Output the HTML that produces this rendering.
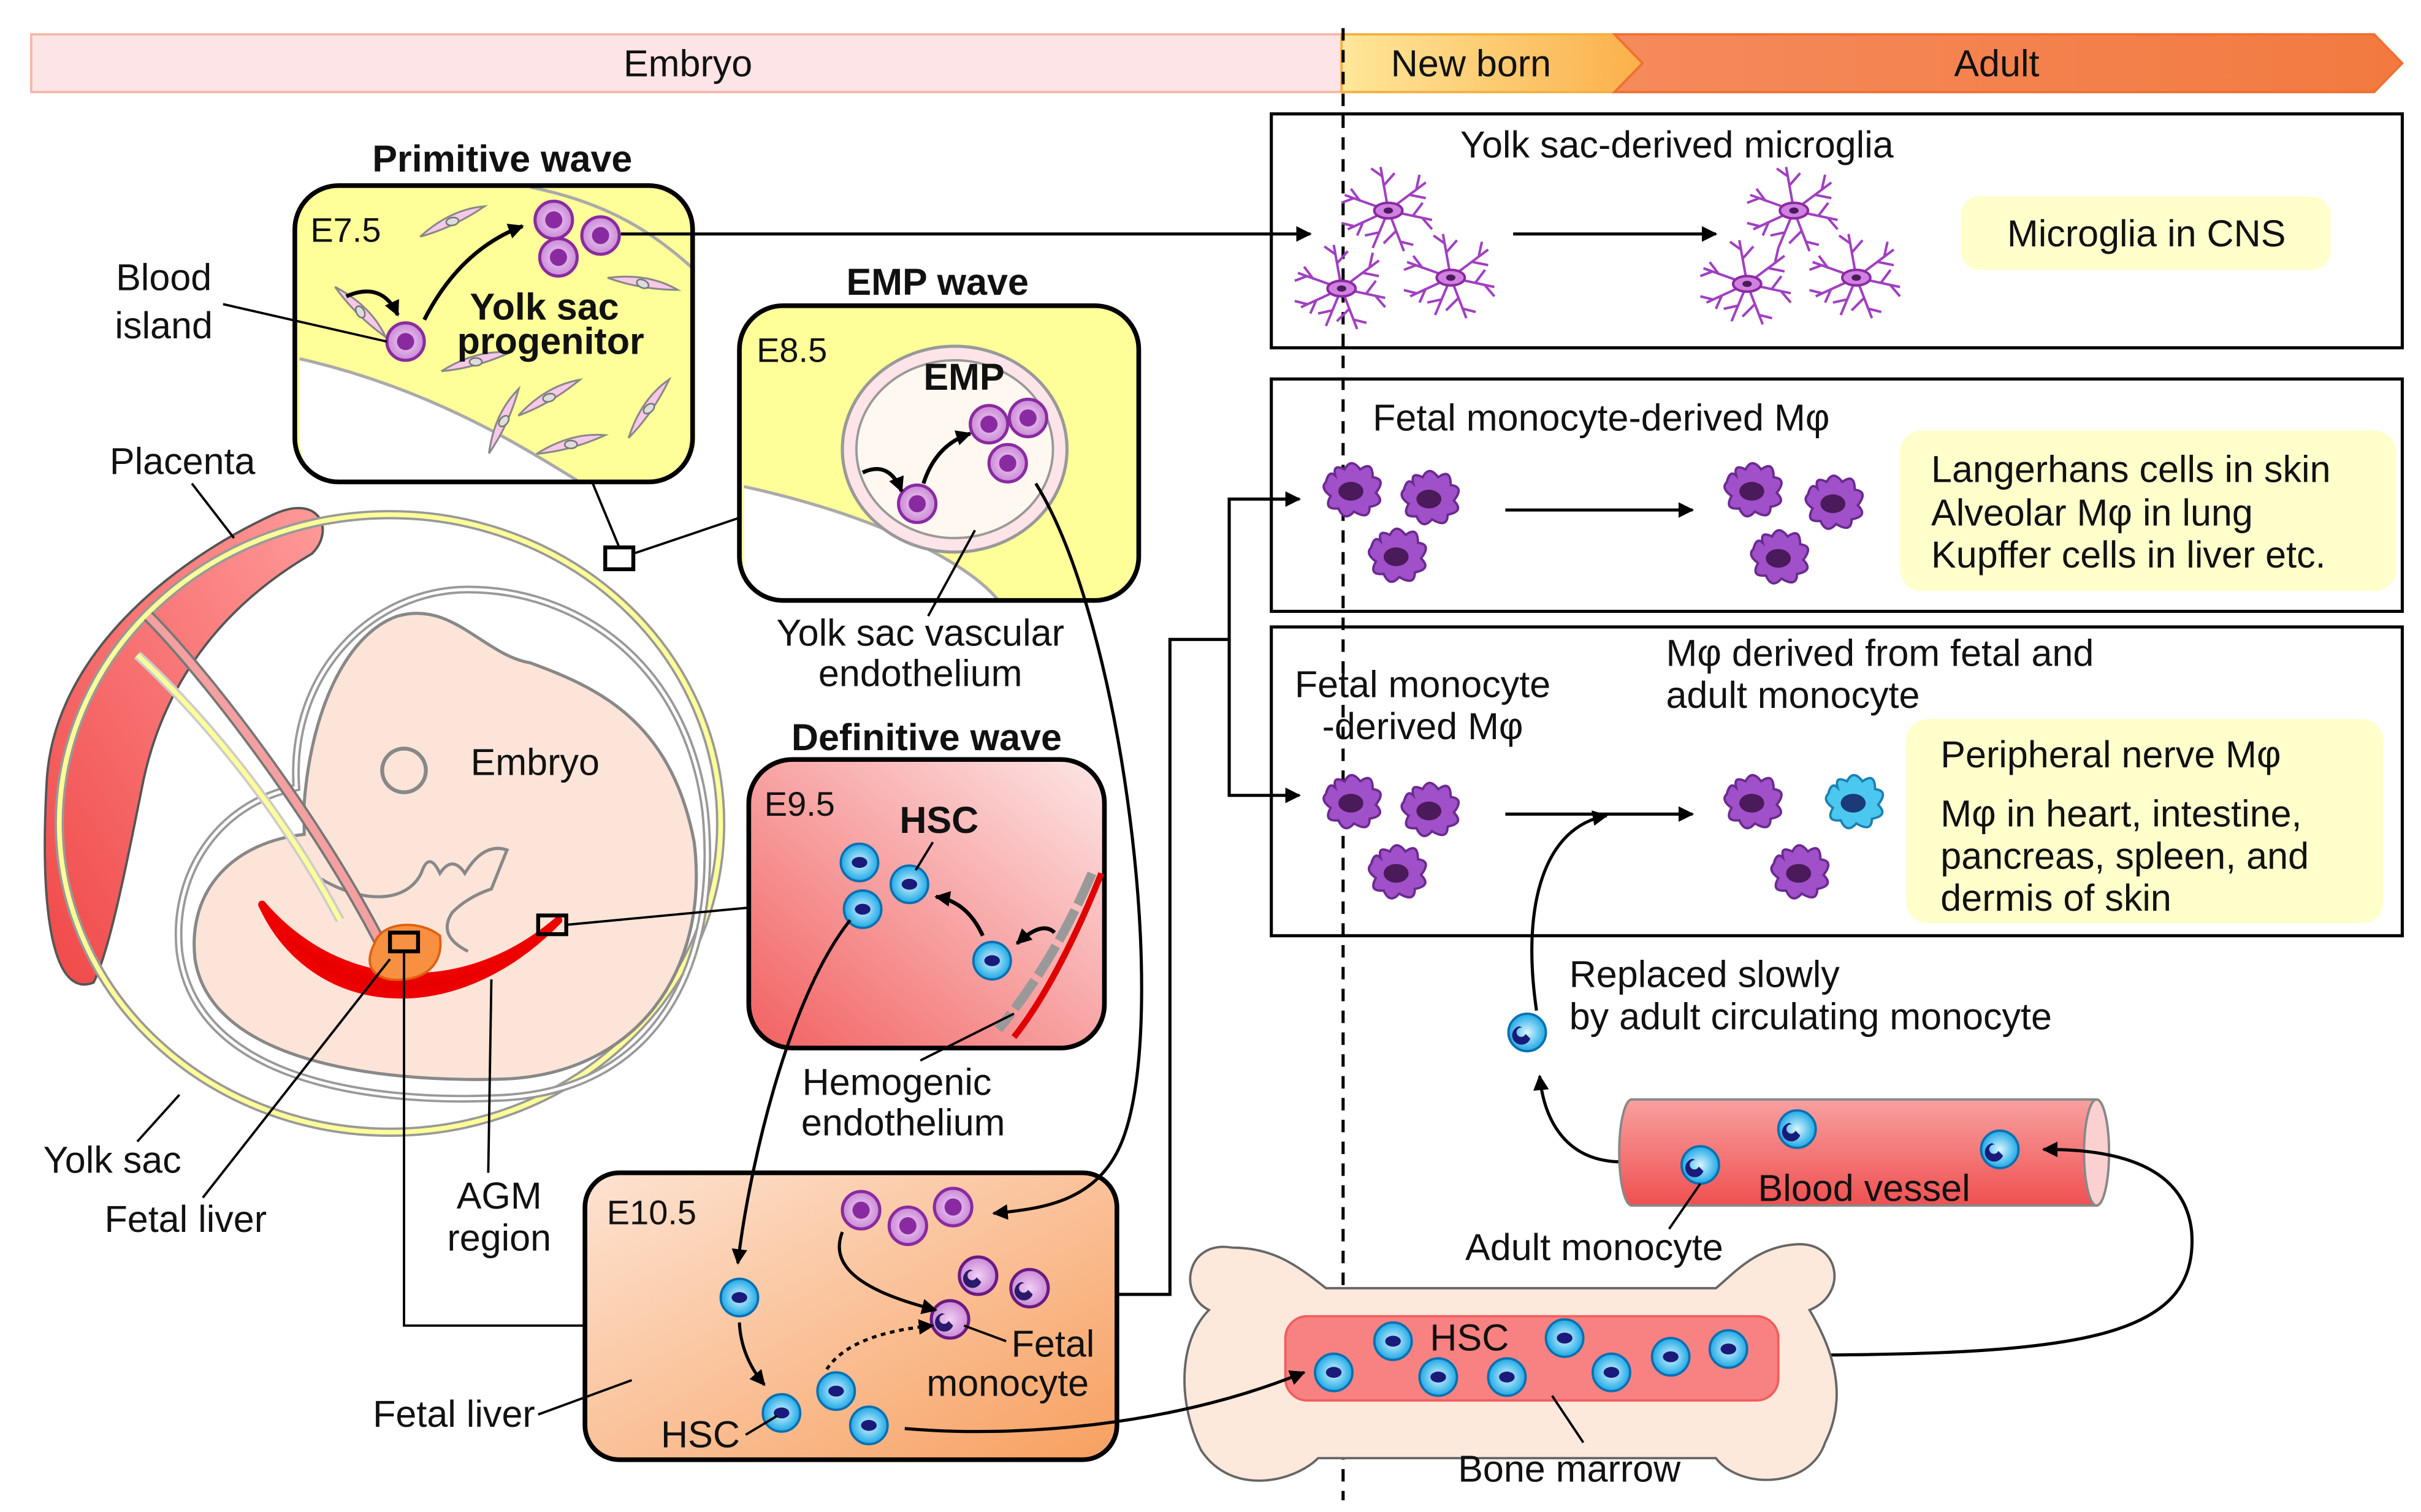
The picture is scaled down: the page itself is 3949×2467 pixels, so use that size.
<!DOCTYPE html>
<html><head><meta charset="utf-8"><style>
html,body{margin:0;padding:0;background:#fff}
svg{display:block}
text{font-family:"Liberation Sans",sans-serif;fill:#111}
</style></head><body>
<svg width="3949" height="2467" viewBox="0 0 1552 969.5" xmlns="http://www.w3.org/2000/svg">
<defs>
<linearGradient id="nb" x1="0" x2="1"><stop offset="0" stop-color="#ffe79a"/><stop offset="1" stop-color="#fbb04a"/></linearGradient>
<linearGradient id="ad" x1="0" x2="1"><stop offset="0" stop-color="#f58a5c"/><stop offset="1" stop-color="#f27a40"/></linearGradient>
<linearGradient id="def" x1="1" y1="0" x2="0" y2="1"><stop offset="0" stop-color="#fde6e6"/><stop offset="1" stop-color="#f26060"/></linearGradient>
<linearGradient id="e10" x1="0" y1="0" x2="1" y2="1"><stop offset="0" stop-color="#fde3d2"/><stop offset="1" stop-color="#f7a060"/></linearGradient>
<linearGradient id="plac" x1="0" y1="1" x2="1" y2="0"><stop offset="0" stop-color="#f04848"/><stop offset="1" stop-color="#ff9a9a"/></linearGradient>
<linearGradient id="ves" x1="0" y1="0" x2="0" y2="1"><stop offset="0" stop-color="#f8a0a0"/><stop offset="1" stop-color="#f05050"/></linearGradient>
<radialGradient id="pc"><stop offset="0" stop-color="#f2d0f5"/><stop offset="1" stop-color="#c98ad6"/></radialGradient>
<radialGradient id="bc"><stop offset="0" stop-color="#d9f6ff"/><stop offset="1" stop-color="#1ea8e6"/></radialGradient>
<marker id="ah" markerWidth="10" markerHeight="10" refX="9" refY="5" orient="auto" markerUnits="userSpaceOnUse"><path d="M0,0 L10,5 L0,10 z" fill="#000"/></marker>
<g id="pcell"><circle r="12" fill="url(#pc)" stroke="#8a2aa0" stroke-width="2"/><circle r="5.5" fill="#8a2aa0"/></g>
<g id="bcell"><circle r="12" fill="url(#bc)" stroke="#0a6fb0" stroke-width="1.5"/><ellipse rx="5" ry="3.5" fill="#1a1a7a"/></g>
<g id="mono"><circle r="12" fill="url(#bc)" stroke="#0a6fb0" stroke-width="1.5"/><path d="M-5,-4 a6,6 0 1 0 7,8 l-3,-3 a3,3 0 1 1 -2,-4z" fill="#1a1a7a"/></g>
<g id="fmono"><circle r="12" fill="url(#pc)" stroke="#6a1a80" stroke-width="2"/><path d="M-5,-4 a6,6 0 1 0 7,8 l-3,-3 a3,3 0 1 1 -2,-4z" fill="#2a1a6a"/></g>
<g id="mac"><path d="M-18,-6 Q-16,-14 -12,-10 Q-14,-18 -6,-14 Q-2,-22 4,-14 Q12,-20 12,-9 Q21,-8 14,1 Q21,8 10,10 Q10,19 0,13 Q-6,20 -10,11 Q-20,12 -15,3 Q-22,-2 -18,-6z" fill="#a050c8" stroke="#6a2a90" stroke-width="1.5"/><ellipse cx="-2" cy="0" rx="8" ry="6" fill="#4a1a5a"/></g>
<g id="bmac"><path d="M-18,-6 Q-16,-14 -12,-10 Q-14,-18 -6,-14 Q-2,-22 4,-14 Q12,-20 12,-9 Q21,-8 14,1 Q21,8 10,10 Q10,19 0,13 Q-6,20 -10,11 Q-20,12 -15,3 Q-22,-2 -18,-6z" fill="#4cc8f0" stroke="#1a80b0" stroke-width="1.5"/><ellipse cx="-2" cy="0" rx="8" ry="6" fill="#1a3a7a"/></g>
<g id="mg" stroke="#a040c0" stroke-width="1.6" fill="none"><path d="M0,0 L-28,-10 M-18,-6 l-6,-8 M-22,-8 l-8,3 M0,0 L-26,12 M-16,7 l-4,9 M-22,10 l-8,-2 M0,0 L-5,-28 M-3,-16 l7,-8 M-4,-22 l-7,-5 M0,0 L24,-18 M14,-10 l10,2 M18,-14 l2,-9 M0,0 L28,6 M16,3 l6,-8 M22,5 l6,7 M0,0 L10,26 M5,13 l-8,8 M8,20 l8,2 M0,0 L-10,24 M-6,14 l-9,2"/><ellipse rx="9" ry="5" fill="#d080e0" stroke="#8a2aa0"/><ellipse rx="3" ry="2" fill="#4a1a5a" stroke="none"/></g>
<g id="spin"><path d="M-22,6 Q0,-8 22,-6 Q0,4 -22,6z" fill="#f8c8e8" stroke="#888" stroke-width="1.2"/><ellipse rx="4" ry="2.5" fill="#ddd" stroke="#777"/></g>
</defs>

<!-- top bar -->
<rect x="20" y="22" width="840" height="37" fill="#fde4e6" stroke="#f4b8a8" stroke-width="1.5"/>
<path d="M860,22 H1035 L1053,40.5 L1035,59 H860z" fill="url(#nb)" stroke="#f5b040" stroke-width="1.5"/>
<path d="M1035,22 H1522 L1540,40.5 L1522,59 H1035 L1053,40.5z" fill="url(#ad)" stroke="#f07030" stroke-width="1.5"/>
<text x="441" y="49" font-size="24" text-anchor="middle">Embryo</text>
<text x="943" y="49" font-size="24" text-anchor="middle">New born</text>
<text x="1280" y="49" font-size="24" text-anchor="middle">Adult</text>

<!-- right boxes -->
<rect x="815" y="73" width="725" height="150" fill="#fff" stroke="#000" stroke-width="2"/>
<rect x="815" y="243" width="725" height="149" fill="#fff" stroke="#000" stroke-width="2"/>
<rect x="815" y="402" width="725" height="198" fill="#fff" stroke="#000" stroke-width="2"/>
<line x1="861" y1="18" x2="861" y2="962" stroke="#000" stroke-width="2" stroke-dasharray="8,6"/>

<text x="1075" y="101" font-size="24" text-anchor="middle">Yolk sac-derived microglia</text>
<use href="#mg" x="890" y="135"/><use href="#mg" x="860" y="185"/><use href="#mg" x="930" y="178"/>
<use href="#mg" x="1150" y="135"/><use href="#mg" x="1120" y="182"/><use href="#mg" x="1190" y="178"/>
<line x1="970" y1="150" x2="1100" y2="150" stroke="#000" stroke-width="2" marker-end="url(#ah)"/>
<rect x="1257" y="126" width="237" height="47" rx="12" fill="#ffffcc"/>
<text x="1376" y="158" font-size="24" text-anchor="middle">Microglia in CNS</text>

<text x="880" y="276" font-size="24">Fetal monocyte-derived Mφ</text>
<use href="#mac" x="868" y="315"/><use href="#mac" x="918" y="320"/><use href="#mac" x="897" y="357"/>
<use href="#mac" x="1125" y="315"/><use href="#mac" x="1177" y="323"/><use href="#mac" x="1142" y="358"/>
<line x1="965" y1="327" x2="1085" y2="327" stroke="#000" stroke-width="2" marker-end="url(#ah)"/>
<rect x="1218" y="276" width="318" height="103" rx="14" fill="#ffffcc"/>
<text x="1238" y="309" font-size="24">Langerhans cells in skin</text>
<text x="1238" y="337" font-size="24">Alveolar Mφ in lung</text>
<text x="1238" y="364" font-size="24">Kupffer cells in liver etc.</text>

<text x="912" y="447" font-size="24" text-anchor="middle">Fetal monocyte</text>
<text x="912" y="474" font-size="24" text-anchor="middle">-derived Mφ</text>
<text x="1068" y="427" font-size="24">Mφ derived from fetal and</text>
<text x="1068" y="454" font-size="24">adult monocyte</text>
<use href="#mac" x="868" y="515"/><use href="#mac" x="918" y="520"/><use href="#mac" x="897" y="560"/>
<use href="#mac" x="1125" y="515"/><use href="#bmac" x="1190" y="515"/><use href="#mac" x="1155" y="560"/>
<line x1="965" y1="522" x2="1085" y2="522" stroke="#000" stroke-width="2" marker-end="url(#ah)"/>
<rect x="1222" y="461" width="306" height="131" rx="14" fill="#ffffcc"/>
<text x="1244" y="492" font-size="24">Peripheral nerve Mφ</text>
<text x="1244" y="530" font-size="24">Mφ in heart, intestine,</text>
<text x="1244" y="557" font-size="24">pancreas, spleen, and</text>
<text x="1244" y="584" font-size="24">dermis of skin</text>

<polyline points="678,830 750,830 750,410 788,410 788,320 833,320" fill="none" stroke="#000" stroke-width="2" marker-end="url(#ah)"/>
<polyline points="788,410 788,510 833,510" fill="none" stroke="#000" stroke-width="2" marker-end="url(#ah)"/>

<use href="#mono" x="979" y="662"/>
<text x="1006" y="633" font-size="24">Replaced slowly</text>
<text x="1006" y="660" font-size="24">by adult circulating monocyte</text>
<path d="M985,648 C975,580 990,530 1030,523" fill="none" stroke="#000" stroke-width="2" marker-end="url(#ah)"/>
<path d="M1040,745 C1005,745 990,720 987,690" fill="none" stroke="#000" stroke-width="2" marker-end="url(#ah)"/>

<!-- blood vessel -->
<path d="M1046,705 H1344 A8,34 0 0 1 1344,773 H1046 A8,34 0 0 1 1046,705z" fill="url(#ves)" stroke="#888" stroke-width="1.5"/>
<ellipse cx="1344" cy="739" rx="8" ry="34" fill="#fbd0d0" stroke="#888" stroke-width="1.5"/>
<use href="#mono" x="1152" y="724"/><use href="#mono" x="1090" y="747"/><use href="#mono" x="1282" y="737"/>
<text x="1195" y="770" font-size="24" text-anchor="middle">Blood vessel</text>
<line x1="1090" y1="759" x2="1070" y2="788" stroke="#000" stroke-width="1.5"/>
<text x="1022" y="808" font-size="24" text-anchor="middle">Adult  monocyte</text>
<path d="M1138,869 C1330,869 1410,860 1405,790 C1400,740 1340,737 1310,737" fill="none" stroke="#000" stroke-width="2" marker-end="url(#ah)"/>

<!-- bone -->
<path d="M790,800 C760,795 755,830 775,840 C755,860 755,900 770,930 C790,960 830,950 845,935 H1100 C1115,955 1160,955 1170,925 C1185,895 1175,865 1160,840 C1185,830 1180,795 1150,798 C1125,800 1110,818 1100,826 H850 C830,810 815,800 790,800z" fill="#fde8dc" stroke="#666" stroke-width="1.5"/>
<rect x="824" y="844" width="316" height="54" rx="14" fill="#f87878" stroke="#f05050" stroke-width="1.5" opacity="0.9"/>
<use href="#bcell" x="855" y="880"/><use href="#bcell" x="893" y="860"/><use href="#bcell" x="922" y="883"/><use href="#bcell" x="966" y="883"/><use href="#bcell" x="1003" y="858"/><use href="#bcell" x="1033" y="880"/><use href="#bcell" x="1071" y="870"/><use href="#bcell" x="1108" y="865"/>
<text x="942" y="866" font-size="24" text-anchor="middle">HSC</text>
<line x1="995" y1="895" x2="1015" y2="925" stroke="#000" stroke-width="1.5"/>
<text x="1006" y="950" font-size="24" text-anchor="middle">Bone marrow</text>

<!-- embryo drawing -->
<ellipse cx="250" cy="528" rx="212" ry="198" fill="#fff"/>
<path d="M30,500 C35,420 110,360 175,330 C205,316 215,340 200,355 C140,390 105,440 92,500 C80,560 70,610 60,630 C35,640 25,590 30,500z" fill="url(#plac)" stroke="#555" stroke-width="1.5"/>
<ellipse cx="250" cy="528" rx="212" ry="198" fill="none" stroke="#999" stroke-width="6"/>
<ellipse cx="250" cy="528" rx="212" ry="198" fill="none" stroke="#ffff99" stroke-width="3"/>
<!-- amnion -->
<path d="M190,505 C185,430 240,378 300,378 C370,378 440,425 452,520 C462,620 420,700 320,704 C230,708 125,690 115,610 C110,560 140,515 190,505 Z" fill="none" stroke="#999" stroke-width="5"/>
<path d="M190,505 C185,430 240,378 300,378 C370,378 440,425 452,520 C462,620 420,700 320,704 C230,708 125,690 115,610 C110,560 140,515 190,505 Z" fill="none" stroke="#fff" stroke-width="2"/>
<!-- body -->
<path d="M195,515 C200,450 225,405 255,395 C290,385 310,420 340,425 C380,440 430,460 445,540 C455,620 410,690 320,692 C240,694 135,680 125,615 C120,570 150,540 195,535 Z" fill="#fde4d8" stroke="#888" stroke-width="2"/>
<path d="M200,560 C230,580 260,580 270,560 Q275,545 282,560 Q290,548 298,560 Q310,540 325,545 L315,570 Q300,575 290,585 Q280,600 300,610" fill="none" stroke="#888" stroke-width="2"/>
<circle cx="259" cy="494" r="14" fill="none" stroke="#888" stroke-width="2.5"/>
<text x="343" y="497" font-size="24" text-anchor="middle">Embryo</text>
<!-- umbilical -->
<path d="M95,395 C130,430 200,520 243,603" fill="none" stroke="#777" stroke-width="8"/>
<path d="M95,395 C130,430 200,520 243,603" fill="none" stroke="#f4a0a0" stroke-width="5"/>
<path d="M88,420 C110,440 170,500 218,590" fill="none" stroke="#ccc" stroke-width="6"/>
<path d="M88,420 C110,440 170,500 218,590" fill="none" stroke="#ffff99" stroke-width="3"/>
<path d="M168,580 C200,650 290,660 358,590 C300,640 220,640 168,580z" fill="#e80000" stroke="#e00" stroke-width="5" stroke-linejoin="round"/>
<path d="M240,605 C245,590 270,590 282,600 C285,620 270,630 250,628 C235,625 235,615 240,605z" fill="#f79040" stroke="#e06010" stroke-width="1.5"/>
<rect x="250" y="598" width="18" height="12" fill="none" stroke="#000" stroke-width="2.5"/>
<rect x="345" y="587" width="18" height="12" fill="none" stroke="#000" stroke-width="2.5"/>
<rect x="388" y="351" width="18" height="14" fill="none" stroke="#000" stroke-width="2.5"/>
<text x="117" y="304" font-size="24" text-anchor="middle">Placenta</text>
<line x1="123" y1="310" x2="150" y2="345" stroke="#000" stroke-width="1.5"/>
<text x="72" y="752" font-size="24" text-anchor="middle">Yolk sac</text>
<line x1="88" y1="732" x2="115" y2="702" stroke="#000" stroke-width="1.5"/>
<text x="119" y="790" font-size="24" text-anchor="middle">Fetal liver</text>
<line x1="130" y1="768" x2="250" y2="615" stroke="#000" stroke-width="1.5"/>
<text x="320" y="775" font-size="24" text-anchor="middle">AGM</text>
<text x="320" y="802" font-size="24" text-anchor="middle">region</text>
<line x1="313" y1="752" x2="315" y2="628" stroke="#000" stroke-width="1.5"/>
<polyline points="259,610 259,850 375,850" fill="none" stroke="#000" stroke-width="1.5"/>
<line x1="363" y1="593" x2="480" y2="582" stroke="#000" stroke-width="1.5"/>
<line x1="397" y1="351" x2="380" y2="310" stroke="#000" stroke-width="1.5"/>
<line x1="406" y1="355" x2="474" y2="332" stroke="#000" stroke-width="1.5"/>

<!-- primitive wave -->
<text x="322" y="110" font-size="24" font-weight="bold" text-anchor="middle">Primitive wave</text>
<rect x="189" y="119" width="255" height="190" rx="28" fill="#ffff99"/>
<path d="M192,230 C280,250 340,290 370,308 L220,308 Q192,308 192,280z" fill="#fff" stroke="none"/>
<path d="M192,230 C280,250 340,290 370,308" fill="none" stroke="#aaa" stroke-width="2"/>
<path d="M340,120 C390,130 420,150 444,172" fill="none" stroke="#aaa" stroke-width="2"/>
<use href="#spin" x="290" y="142" transform="rotate(-10 290 142)"/><use href="#spin" x="412" y="182" transform="rotate(25 412 182)"/><use href="#spin" x="231" y="200" transform="rotate(60 231 200)"/><use href="#spin" x="305" y="232"/><use href="#spin" x="352" y="255" transform="rotate(-15 352 255)"/><use href="#spin" x="416" y="262" transform="rotate(-40 416 262)"/><use href="#spin" x="323" y="270" transform="rotate(-50 323 270)"/><use href="#spin" x="366" y="285"/>
<rect x="189" y="119" width="255" height="190" rx="28" fill="none" stroke="#000" stroke-width="3"/>
<text x="199" y="155" font-size="22">E7.5</text>
<use href="#pcell" x="260" y="219"/><use href="#pcell" x="355" y="141"/><use href="#pcell" x="385" y="151"/><use href="#pcell" x="358" y="165"/>
<path d="M222,190 Q245,180 255,202" fill="none" stroke="#000" stroke-width="2.5" marker-end="url(#ah)"/>
<path d="M272,205 Q295,160 335,145" fill="none" stroke="#000" stroke-width="2.5" marker-end="url(#ah)"/>
<text x="349" y="205" font-size="24" font-weight="bold" text-anchor="middle">Yolk sac</text>
<text x="353" y="227" font-size="24" font-weight="bold" text-anchor="middle">progenitor</text>
<text x="105" y="186" font-size="24" text-anchor="middle">Blood</text>
<text x="105" y="217" font-size="24" text-anchor="middle">island</text>
<line x1="143" y1="195" x2="248" y2="219" stroke="#000" stroke-width="1.5"/>
<line x1="398" y1="150" x2="840" y2="150" stroke="#000" stroke-width="2" marker-end="url(#ah)"/>

<!-- EMP wave -->
<text x="601" y="189" font-size="24" font-weight="bold" text-anchor="middle">EMP wave</text>
<rect x="474" y="196" width="256" height="189" rx="28" fill="#ffff99"/>
<path d="M477,312 C560,330 620,360 640,385 H500 Q477,385 477,360z" fill="#fff"/>
<path d="M477,312 C560,330 620,360 640,385" fill="none" stroke="#aaa" stroke-width="2"/>
<ellipse cx="612" cy="288" rx="72" ry="66" fill="#fce4e8" stroke="#999" stroke-width="2"/>
<ellipse cx="612" cy="288" rx="63" ry="57" fill="#fff8f0" stroke="#999" stroke-width="1.5"/>
<rect x="474" y="196" width="256" height="189" rx="28" fill="none" stroke="#000" stroke-width="3"/>
<text x="485" y="232" font-size="22">E8.5</text>
<text x="618" y="250" font-size="24" font-weight="bold" text-anchor="middle">EMP</text>
<use href="#pcell" x="588" y="323"/><use href="#pcell" x="634" y="272"/><use href="#pcell" x="659" y="268"/><use href="#pcell" x="646" y="297"/>
<path d="M553,303 Q570,295 578,315" fill="none" stroke="#000" stroke-width="2.5" marker-end="url(#ah)"/>
<path d="M592,310 Q600,285 622,278" fill="none" stroke="#000" stroke-width="2.5" marker-end="url(#ah)"/>
<line x1="625" y1="340" x2="595" y2="395" stroke="#000" stroke-width="1.5"/>
<text x="590" y="414" font-size="24" text-anchor="middle">Yolk sac vascular</text>
<text x="590" y="440" font-size="24" text-anchor="middle">endothelium</text>

<!-- definitive wave -->
<text x="594" y="481" font-size="24" font-weight="bold" text-anchor="middle">Definitive wave</text>
<rect x="480" y="487" width="228" height="185" rx="28" fill="url(#def)" stroke="#000" stroke-width="3"/>
<path d="M706,560 C690,600 670,640 650,665" fill="none" stroke="#e00000" stroke-width="4"/>
<path d="M700,560 C685,595 665,630 640,660" fill="none" stroke="#999" stroke-width="6" stroke-dasharray="22,4"/>
<text x="490" y="523" font-size="22">E9.5</text>
<text x="602" y="534" font-size="24" font-weight="bold" text-anchor="middle">HSC</text>
<use href="#bcell" x="551" y="553"/><use href="#bcell" x="583" y="567"/><use href="#bcell" x="553" y="583"/><use href="#bcell" x="636" y="616"/>
<line x1="598" y1="540" x2="587" y2="558" stroke="#000" stroke-width="1.5"/>
<path d="M630,600 Q620,578 600,575" fill="none" stroke="#000" stroke-width="2.5" marker-end="url(#ah)"/>
<path d="M676,598 Q668,590 652,605" fill="none" stroke="#000" stroke-width="2.5" marker-end="url(#ah)"/>
<text x="575" y="702" font-size="24" text-anchor="middle">Hemogenic</text>
<text x="579" y="728" font-size="24" text-anchor="middle">endothelium</text>
<line x1="590" y1="680" x2="650" y2="650" stroke="#000" stroke-width="1.5"/>

<!-- E10.5 -->
<rect x="375" y="752" width="341" height="184" rx="22" fill="url(#e10)" stroke="#000" stroke-width="3"/>
<text x="389" y="785" font-size="22">E10.5</text>
<use href="#pcell" x="552" y="776"/><use href="#pcell" x="582" y="786"/><use href="#pcell" x="611" y="774"/>
<use href="#fmono" x="627" y="818"/><use href="#fmono" x="660" y="826"/><use href="#fmono" x="609" y="846"/>
<use href="#bcell" x="474" y="832"/><use href="#bcell" x="536" y="892"/><use href="#bcell" x="501" y="906"/><use href="#bcell" x="557" y="914"/>
<path d="M540,790 C530,815 560,830 600,840" fill="none" stroke="#000" stroke-width="2" marker-end="url(#ah)"/>
<path d="M474,848 Q475,870 490,888" fill="none" stroke="#000" stroke-width="2" marker-end="url(#ah)"/>
<path d="M530,878 Q545,855 598,850" fill="none" stroke="#000" stroke-width="2" stroke-dasharray="3,3" marker-end="url(#ah)"/>
<path d="M580,916 C650,922 750,915 836,880" fill="none" stroke="#000" stroke-width="2" marker-end="url(#ah)"/>
<text x="675" y="870" font-size="24" text-anchor="middle">Fetal</text>
<text x="646" y="895" font-size="24" text-anchor="middle">monocyte</text>
<line x1="618" y1="850" x2="645" y2="860" stroke="#000" stroke-width="1.5"/>
<text x="449" y="928" font-size="24" text-anchor="middle">HSC</text>
<line x1="478" y1="920" x2="498" y2="908" stroke="#000" stroke-width="1.5"/>
<text x="291" y="915" font-size="24" text-anchor="middle">Fetal liver</text>
<line x1="345" y1="907" x2="405" y2="885" stroke="#000" stroke-width="1.5"/>

<!-- long arrows on top -->
<path d="M664,310 C720,400 750,650 720,730 C705,770 670,775 637,778" fill="none" stroke="#000" stroke-width="2" marker-end="url(#ah)"/>
<path d="M545,590 C505,640 480,750 473,810" fill="none" stroke="#000" stroke-width="2" marker-end="url(#ah)"/>
</svg>
</body></html>
